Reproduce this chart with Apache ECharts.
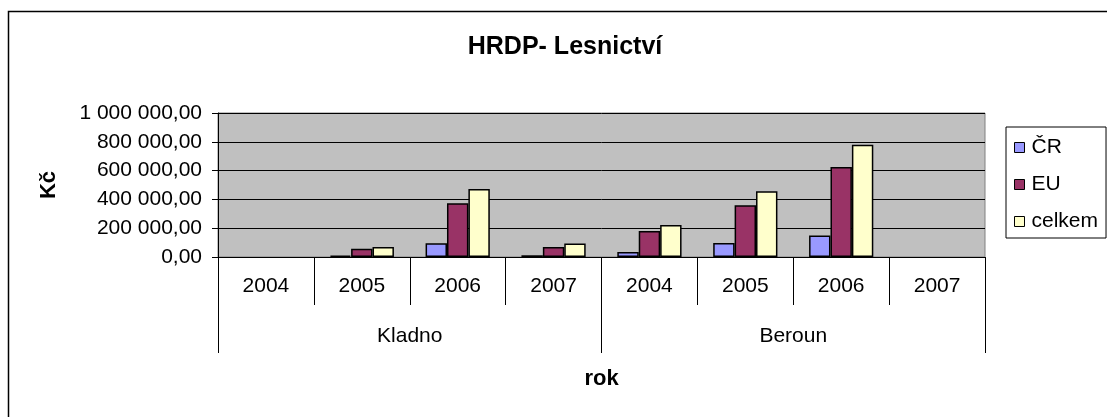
<!DOCTYPE html>
<html>
<head>
<meta charset="utf-8">
<script src="https://cdn.jsdelivr.net/npm/echarts@6/dist/echarts.min.js"></script>
<style>
    html, body { margin: 0; padding: 0; background: #fff; }
    #chart { width: 1107px; height: 417px; }
</style>
</head>
<body>
<div id="chart"></div>
<script>
var years = ['2004', '2005', '2006', '2007', '2004', '2005', '2006', '2007'];
var districts = ['Kladno', 'Beroun'];
var seriesNames = ['ČR', 'EU', 'celkem'];
var valuesCR = [0, 10000, 95000, 12000, 35000, 97000, 150000, 0];
var valuesEU = [0, 58000, 373000, 70000, 180000, 360000, 625000, 0];
var valuesTotal = [0, 69000, 472000, 93000, 222000, 457000, 780000, 0];
var yTicks = [0, 200000, 400000, 600000, 800000, 1000000];

var font = '"Liberation Sans", Arial, sans-serif';
var colors = ['#9999FF', '#993366', '#FFFFCC'];

function formatKc(value){
    var s = String(Math.round(value));
    s = s.replace(/\B(?=(\d{3})+(?!\d))/g, ' ');
    return s + ',00';
}

function makeBar(name, data, color){
    return {
        name: name,
        type: 'bar',
        // zero values draw nothing, as in the original
        data: data.map(function(v){ return v === 0 ? '-' : v; }),
        barGap: 0,
        barCategoryGap: '33%',
        itemStyle: {color: color, borderColor: '#000', borderWidth: 1.5}
    };
}

var chart = echarts.init(document.getElementById('chart'));

chart.setOption({
    animation: false,
    color: colors,
    textStyle: {fontFamily: font},
    title: {
        text: 'HRDP- Lesnictví',
        left: 560,
        top: 30,
        textAlign: 'center',
        textStyle: {fontFamily: font, fontSize: 25, fontWeight: 'bold', color: '#000'}
    },
    graphic: [{
        type: 'rect',
        shape: {x: 8.5, y: 11.5, width: 1200, height: 500},
        style: {fill: null, stroke: '#000', lineWidth: 1.5},
        silent: true
    }],
    legend: {
        orient: 'vertical',
        left: 1006,
        top: 127,
        padding: [10, 8, 6, 8],
        itemGap: 16,
        itemWidth: 10,
        itemHeight: 10,
        icon: 'rect',
        backgroundColor: '#fff',
        borderColor: '#000',
        borderWidth: 1,
        itemStyle: {borderColor: '#000', borderWidth: 1},
        textStyle: {fontFamily: font, fontSize: 21, color: '#000', padding: [0, 0, 0, 2]},
        data: seriesNames
    },
    grid: {
        left: 218,
        right: 122,
        top: 113,
        bottom: 160,
        show: true,
        backgroundColor: '#C0C0C0',
        borderColor: '#808080',
        borderWidth: 1
    },
    xAxis: [{
        type: 'category',
        data: years,
        position: 'bottom',
        axisLine: {onZero: false, lineStyle: {color: '#000', width: 1}},
        axisTick: {show: true, interval: 0, length: 48, lineStyle: {color: '#000'}},
        axisLabel: {interval: 0, margin: 19, fontFamily: font, fontSize: 21, color: '#000'}
    }, {
        type: 'category',
        data: districts,
        position: 'bottom',
        name: 'rok',
        nameLocation: 'middle',
        nameGap: 111,
        nameTextStyle: {fontFamily: font, fontSize: 22, fontWeight: 'bold', color: '#000'},
        axisLine: {show: false, onZero: false},
        axisTick: {show: true, interval: 0, length: 96, lineStyle: {color: '#000'}},
        axisLabel: {interval: 0, margin: 69, fontFamily: font, fontSize: 21, color: '#000'}
    }],
    yAxis: {
        type: 'value',
        min: yTicks[0],
        max: yTicks[yTicks.length - 1],
        interval: yTicks[1] - yTicks[0],
        name: 'Kč',
        nameLocation: 'middle',
        nameGap: 158,
        nameTextStyle: {fontFamily: font, fontSize: 22, fontWeight: 'bold', color: '#000'},
        axisLine: {show: true, lineStyle: {color: '#000', width: 1}},
        axisTick: {show: true, length: 6, lineStyle: {color: '#000'}},
        axisLabel: {margin: 16, fontFamily: font, fontSize: 21, color: '#000', formatter: formatKc},
        splitLine: {show: true, lineStyle: {color: '#000', width: 1}}
    },
    series: [
        makeBar(seriesNames[0], valuesCR, colors[0]),
        makeBar(seriesNames[1], valuesEU, colors[1]),
        makeBar(seriesNames[2], valuesTotal, colors[2])
    ]
});
</script>
</body>
</html>
